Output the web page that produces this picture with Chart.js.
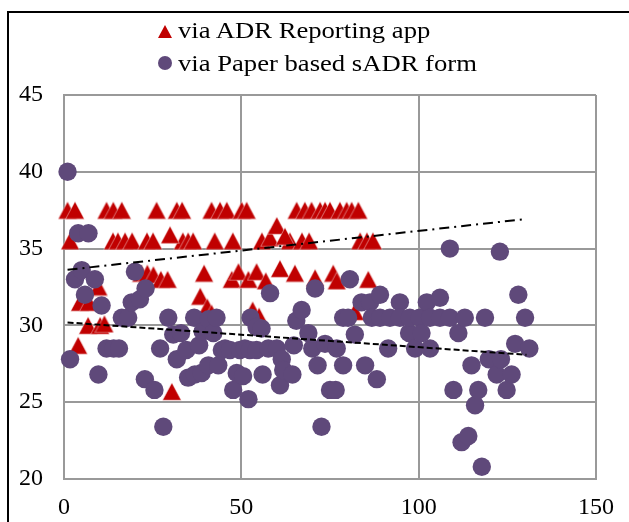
<!DOCTYPE html>
<html><head><meta charset="utf-8">
<script src="https://cdn.jsdelivr.net/npm/chart.js@4/dist/chart.umd.min.js"></script>
<style>
html,body{margin:0;padding:0;background:#fff;overflow:hidden;width:629px;height:522px}
#frame{position:absolute;left:7px;top:11px;width:700px;height:600px;border-left:2px solid #000;border-top:2px solid #000}
#c{position:absolute;left:0;top:0}
.leg{position:absolute;left:178px;font-family:'Liberation Serif','Times New Roman',serif;font-size:24px;line-height:24px;color:#000;white-space:nowrap;transform:scaleX(1.11);transform-origin:0 0}
.tri{position:absolute;left:158px;top:25px;width:0;height:0;border-left:7px solid transparent;border-right:7px solid transparent;border-bottom:13px solid #C00000}
.dot{position:absolute;left:158px;top:56px;width:14px;height:14px;border-radius:50%;background:#5F497A}
</style></head>
<body>
<div id="frame"></div>
<canvas id="c" width="629" height="522"></canvas>
<div class="tri"></div><div class="leg" style="top:17.9px">via ADR Reporting app</div>
<div class="dot"></div><div class="leg" style="top:50.9px">via Paper based sADR form</div>
<script>
const xTicks = [0, 50, 100, 150];
const yTicks = [20, 25, 30, 35, 40, 45];

const appX = [1, 3.1, 12, 13.9, 16.3, 26.1, 31.8, 33.3, 41.6, 44, 45.9, 50.1, 51.5, 65.6, 67.9, 69.8, 72.2, 73.6, 75, 77.8, 79.7, 81.1, 83,
  1.7, 13.8, 15.2, 17.2, 19.2, 23.4, 25.1, 33.5, 35, 36.4, 42.5, 47.6, 55.8, 63.7, 67.1, 69.1, 83.5, 85.4, 87.1,
  29.9, 58.1, 60, 62.3,
  21.8, 23.5, 25.2, 27.3, 29.2, 39.5, 38.4, 40.4, 41.6, 47.3, 49.2, 52, 54.3, 56.9, 60.9, 65.1, 70.8, 75.9, 76.9, 85.8,
  53.2, 55, 82, 6.8, 10.2, 11.4, 4, 4.5, 7, 9.7, 30.4];
const appY = [37.5, 37.5, 37.5, 37.5, 37.5, 37.5, 37.5, 37.5, 37.5, 37.5, 37.5, 37.5, 37.5, 37.5, 37.5, 37.5, 37.5, 37.5, 37.5, 37.5, 37.5, 37.5, 37.5,
  35.5, 35.5, 35.5, 35.5, 35.5, 35.5, 35.5, 35.5, 35.5, 35.5, 35.5, 35.5, 35.5, 35.5, 35.5, 35.5, 35.5, 35.5, 35.5,
  35.9, 35.7, 36.5, 35.8,
  33.4, 33.4, 33.3, 33.0, 33.0, 33.4, 31.9, 31.2, 30.8, 33.0, 33.5, 33.0, 33.5, 32.9, 33.7, 33.4, 33.1, 33.4, 32.9, 33.0,
  31.0, 30.6, 30.9, 30.0, 30.0, 30.1, 28.7, 31.5, 31.5, 32.5, 25.7];

const paperX = [1, 1.7, 3.1, 4, 6.9, 5, 8.7, 5.9, 10.6, 9.7, 12, 14, 15.5, 16.3, 18.1, 19.1, 21.4, 20, 23, 22.8,
  25.5, 27.1, 28, 29.4, 30.8, 31.8, 33, 34.5, 35, 36.7, 36.9, 38.1, 38.8, 39.1, 40.7, 40.8, 42.1, 43, 43.5, 44.5,
  45.4, 46.8, 47.7, 48.7, 49.6, 50.5, 51, 52, 52.6, 52.4, 54.3, 54.3, 55.7, 56, 57.6, 58.1, 60, 60.9, 61.4, 61.8,
  64.4, 64.8, 65.5, 67, 68.9, 70, 70.8, 71.5, 72.6, 73.6, 75, 76.6, 76.9, 78.7, 78.7, 80.1, 80.6, 82, 83.9, 84.9,
  86.3, 86.8, 88.2, 89.1, 89.1, 91.4, 91.9, 94.7, 94.7, 97.3, 97.5, 99, 100.3, 100.8, 102.3, 103.2, 103.2, 106, 106, 108.8,
  108.8, 109.8, 111.2, 112.1, 113, 114, 114.9, 115.9, 116.8, 117.8, 118.7, 119.8, 122, 122.9, 123.2, 124.8, 126.2, 127.2, 128.1, 130,
  131.2];
const paperY = [40, 27.8, 33.0, 36, 36, 33.6, 33.0, 32.0, 31.3, 26.8, 28.5, 28.5, 28.5, 30.5, 30.5, 31.5, 31.7, 33.5, 32.4, 26.5,
  25.8, 28.5, 23.4, 30.5, 29.4, 27.8, 29.5, 28.4, 26.6, 30.5, 26.8, 28.7, 26.9, 29.6, 27.4, 30.4, 29.5, 30.5, 27.4, 28.4,
  28.5, 28.4, 25.8, 26.9, 28.4, 26.7, 28.5, 25.2, 30.5, 28.4, 28.4, 29.9, 29.8, 26.8, 28.5, 32.1, 28.5, 26.1, 27.8, 27.1,
  26.8, 28.7, 30.3, 31.0, 29.5, 28.5, 32.4, 27.4, 23.4, 28.8, 25.8, 25.8, 28.5, 27.4, 30.5, 30.5, 33.0, 29.4, 31.5, 27.4,
  31.5, 30.5, 26.5, 32.0, 30.5, 28.5, 30.5, 31.5, 30.5, 29.5, 30.5, 28.5, 30.5, 29.5, 31.5, 28.5, 30.5, 31.8, 30.5, 35.0,
  30.5, 25.8, 29.5, 22.4, 30.5, 22.8, 27.4, 24.8, 25.8, 20.8, 30.5, 27.8, 26.8, 34.8, 27.8, 25.8, 26.8, 28.8, 32.0, 30.5,
  28.5];

const appTrendX = [1, 130];
const appTrendY = [33.62, 36.92];
const paperTrendX = [1, 130.4];
const paperTrendY = [30.19, 28.09];

const zip = (xs, ys) => xs.map((x, i) => ({x: x, y: ys[i]}));

function triMarker() {
  const c = document.createElement('canvas');
  c.width = 20; c.height = 19;
  const g = c.getContext('2d');
  g.beginPath();
  g.moveTo(10, 0.8); g.lineTo(19.3, 18.2); g.lineTo(0.7, 18.2); g.closePath();
  g.fillStyle = '#C00000'; g.fill();
  g.strokeStyle = 'rgba(255,255,255,0.55)'; g.lineWidth = 0.8; g.stroke();
  return c;
}

const tickFont = {family: "'Liberation Serif', 'Times New Roman', serif", size: 24};
const gridColor = '#999999';

new Chart(document.getElementById('c'), {
  type: 'scatter',
  data: {
    datasets: [
      {label: 'Trend (app)', data: zip(appTrendX, appTrendY), showLine: true, borderColor: '#000', borderWidth: 2,
       borderDash: [10, 5, 2, 5], pointRadius: 0, fill: false, order: 0, clip: false},
      {label: 'Trend (paper)', data: zip(paperTrendX, paperTrendY), showLine: true, borderColor: '#000', borderWidth: 2,
       borderDash: [6, 3], pointRadius: 0, fill: false, order: 0, clip: false},
      {label: 'via Paper based sADR form', data: zip(paperX, paperY), pointStyle: 'circle', pointRadius: 9.2,
       backgroundColor: '#5F497A', borderWidth: 0, order: 1, clip: false},
      {label: 'via ADR Reporting app', data: zip(appX, appY), pointStyle: triMarker(), pointRadius: 9,
       backgroundColor: '#C00000', borderWidth: 0, order: 2, clip: false}
    ]
  },
  options: {
    responsive: false, animation: false, events: [],
    layout: {padding: {left: 0, right: 33, top: 95, bottom: 0}},
    plugins: {legend: {display: false}, tooltip: {enabled: false}},
    scales: {
      x: {
        type: 'linear', min: xTicks[0], max: xTicks[xTicks.length - 1],
        afterBuildTicks: s => { s.ticks = xTicks.map(v => ({value: v})); },
        afterFit: s => { s.height = 43; },
        grid: {color: gridColor, lineWidth: 2, drawTicks: false},
        border: {color: gridColor, width: 2},
        ticks: {padding: 14, color: '#000', font: tickFont, maxRotation: 0}
      },
      y: {
        type: 'linear', min: yTicks[0], max: yTicks[yTicks.length - 1],
        afterBuildTicks: s => { s.ticks = yTicks.map(v => ({value: v})); },
        afterFit: s => { s.width = 64; },
        grid: {color: gridColor, lineWidth: 2, drawTicks: false},
        border: {color: gridColor, width: 2},
        ticks: {padding: 21, color: '#000', font: tickFont}
      }
    }
  }
});
</script>
</body></html>
